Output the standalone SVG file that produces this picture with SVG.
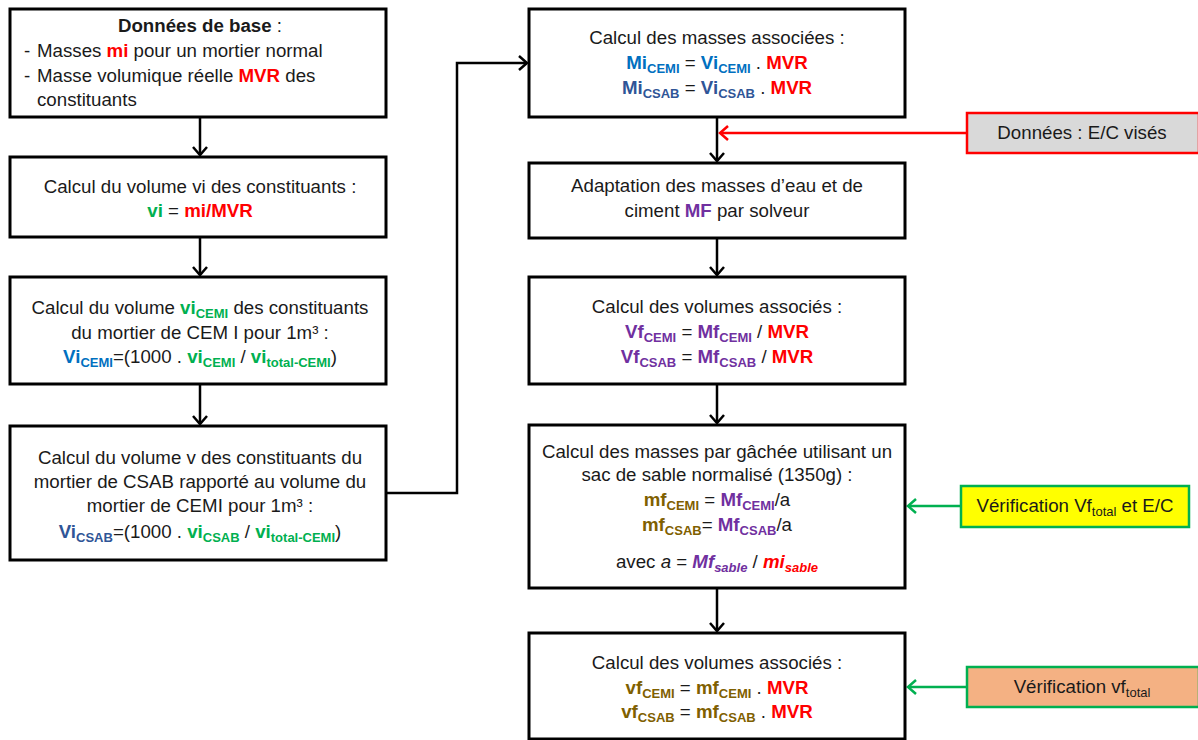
<svg xmlns="http://www.w3.org/2000/svg" width="1198" height="740" viewBox="0 0 1198 740">
<defs>
<style>
text{font-family:"Liberation Sans",Arial,sans-serif;font-size:18.7px;fill:#1a1a1a;text-anchor:middle}
.box{fill:#fff;stroke:#000;stroke-width:3}
.b{font-weight:bold}
.r{fill:#ff0000;font-weight:bold}
.g{fill:#00b050;font-weight:bold}
.bl{fill:#0070c0;font-weight:bold}
.db{fill:#2f5597;font-weight:bold}
.p{fill:#7030a0;font-weight:bold}
.o{fill:#7f6000;font-weight:bold}
.s{font-size:13px}
.con{fill:none;stroke:#000;stroke-width:2.5}
</style>
<marker id="ah" markerUnits="userSpaceOnUse" markerWidth="14" markerHeight="18" refX="10" refY="8" orient="auto">
<path d="M2,1 L10,8 L2,15" fill="none" stroke="#000" stroke-width="2.5"/>
</marker>
<marker id="ahr" markerUnits="userSpaceOnUse" markerWidth="14" markerHeight="18" refX="10" refY="8" orient="auto">
<path d="M2,1 L10,8 L2,15" fill="none" stroke="#ff0000" stroke-width="2.5"/>
</marker>
<marker id="ahg" markerUnits="userSpaceOnUse" markerWidth="14" markerHeight="18" refX="10" refY="8" orient="auto">
<path d="M2,1 L10,8 L2,15" fill="none" stroke="#00b050" stroke-width="2.5"/>
</marker>
</defs>
<rect width="1198" height="740" fill="#fff"/>

<g id="connectors">
<line class="con" x1="200" y1="117" x2="200" y2="155" marker-end="url(#ah)"/>
<line class="con" x1="200" y1="237" x2="200" y2="275" marker-end="url(#ah)"/>
<line class="con" x1="200" y1="384" x2="200" y2="424" marker-end="url(#ah)"/>
<polyline class="con" points="386,493 457,493 457,63 527,63" marker-end="url(#ah)"/>
<line class="con" x1="717" y1="117" x2="717" y2="161" marker-end="url(#ah)"/>
<line class="con" x1="717" y1="238" x2="717" y2="275" marker-end="url(#ah)"/>
<line class="con" x1="717" y1="384" x2="717" y2="423" marker-end="url(#ah)"/>
<line class="con" x1="717" y1="588" x2="717" y2="631" marker-end="url(#ah)"/>
<line x1="967" y1="133" x2="720" y2="133" stroke="#ff0000" stroke-width="2.5" marker-end="url(#ahr)"/>
<line x1="960" y1="506" x2="908" y2="506" stroke="#00b050" stroke-width="2.5" marker-end="url(#ahg)"/>
<line x1="967" y1="687" x2="908" y2="687" stroke="#00b050" stroke-width="2.5" marker-end="url(#ahg)"/>
</g>

<g id="n1">
<rect class="box" x="10" y="9" width="376" height="108"/>
<text x="200" y="32"><tspan class="b">Données de base</tspan> :</text>
<text x="24" y="57" style="text-anchor:start">-</text>
<text x="37" y="57" style="text-anchor:start">Masses <tspan class="r">mi</tspan> pour un mortier normal</text>
<text x="24" y="82" style="text-anchor:start">-</text>
<text x="37" y="82" style="text-anchor:start">Masse volumique réelle <tspan class="r">MVR</tspan> des</text>
<text x="37" y="106" style="text-anchor:start">constituants</text>
</g>

<g id="n2">
<rect class="box" x="10" y="157" width="376" height="80"/>
<text x="200" y="193">Calcul du volume vi des constituants :</text>
<text x="200" y="217"><tspan class="g">vi</tspan> = <tspan class="r">mi</tspan><tspan class="r">/MVR</tspan></text>
</g>

<g id="n3">
<rect class="box" x="10" y="277" width="376" height="107"/>
<text x="200" y="314">Calcul du volume <tspan class="g">vi</tspan><tspan class="g s" dy="4">CEMI</tspan><tspan dy="-4"> des constituants</tspan></text>
<text x="200" y="339">du mortier de CEM I pour 1m³ :</text>
<text x="200" y="363"><tspan class="bl">Vi</tspan><tspan class="bl s" dy="4">CEMI</tspan><tspan dy="-4">=(1000 . </tspan><tspan class="g">vi</tspan><tspan class="g s" dy="4">CEMI</tspan><tspan dy="-4"> / </tspan><tspan class="g">vi</tspan><tspan class="g s" dy="4">total-CEMI</tspan><tspan dy="-4">)</tspan></text>
</g>

<g id="n4">
<rect class="box" x="10" y="426" width="376" height="134"/>
<text x="200" y="464">Calcul du volume v des constituants du</text>
<text x="200" y="488">mortier de CSAB rapporté au volume du</text>
<text x="200" y="512">mortier de CEMI pour 1m³ :</text>
<text x="200" y="538"><tspan class="db">Vi</tspan><tspan class="db s" dy="4">CSAB</tspan><tspan dy="-4">=(1000 . </tspan><tspan class="g">vi</tspan><tspan class="g s" dy="4">CSAB</tspan><tspan dy="-4"> / </tspan><tspan class="g">vi</tspan><tspan class="g s" dy="4">total-CEMI</tspan><tspan dy="-4">)</tspan></text>
</g>

<g id="nA">
<rect class="box" x="529" y="9" width="376" height="108"/>
<text x="717" y="44">Calcul des masses associées :</text>
<text x="717" y="69"><tspan class="bl">Mi</tspan><tspan class="bl s" dy="4">CEMI</tspan><tspan dy="-4"> = </tspan><tspan class="bl">Vi</tspan><tspan class="bl s" dy="4">CEMI</tspan><tspan dy="-4"> . </tspan><tspan class="r">MVR</tspan></text>
<text x="717" y="94"><tspan class="db">Mi</tspan><tspan class="db s" dy="4">CSAB</tspan><tspan dy="-4"> = </tspan><tspan class="db">Vi</tspan><tspan class="db s" dy="4">CSAB</tspan><tspan dy="-4"> . </tspan><tspan class="r">MVR</tspan></text>
</g>

<g id="nB">
<rect class="box" x="529" y="163" width="376" height="75"/>
<text x="717" y="192">Adaptation des masses d’eau et de</text>
<text x="717" y="217">ciment <tspan class="p">MF</tspan> par solveur</text>
</g>

<g id="nC">
<rect class="box" x="529" y="277" width="376" height="107"/>
<text x="717" y="313">Calcul des volumes associés :</text>
<text x="717" y="338"><tspan class="p">Vf</tspan><tspan class="p s" dy="4">CEMI</tspan><tspan dy="-4"> = </tspan><tspan class="p">Mf</tspan><tspan class="p s" dy="4">CEMI</tspan><tspan dy="-4"> / </tspan><tspan class="r">MVR</tspan></text>
<text x="717" y="363"><tspan class="p">Vf</tspan><tspan class="p s" dy="4">CSAB</tspan><tspan dy="-4"> = </tspan><tspan class="p">Mf</tspan><tspan class="p s" dy="4">CSAB</tspan><tspan dy="-4"> / </tspan><tspan class="r">MVR</tspan></text>
</g>

<g id="nD">
<rect class="box" x="529" y="425" width="376" height="163"/>
<text x="717" y="458">Calcul des masses par gâchée utilisant un</text>
<text x="717" y="481">sac de sable normalisé (1350g) :</text>
<text x="717" y="506"><tspan class="o">mf</tspan><tspan class="o s" dy="4">CEMI</tspan><tspan dy="-4"> = </tspan><tspan class="p">Mf</tspan><tspan class="p s" dy="4">CEMI</tspan><tspan dy="-4">/a</tspan></text>
<text x="717" y="531"><tspan class="o">mf</tspan><tspan class="o s" dy="4">CSAB</tspan><tspan dy="-4">= </tspan><tspan class="p">Mf</tspan><tspan class="p s" dy="4">CSAB</tspan><tspan dy="-4">/a</tspan></text>
<text x="717" y="568">avec <tspan font-style="italic">a</tspan> = <tspan class="p" font-style="italic">Mf</tspan><tspan class="p s" font-style="italic" dy="4">sable</tspan><tspan dy="-4"> / </tspan><tspan class="r" font-style="italic">mi</tspan><tspan class="r s" font-style="italic" dy="4">sable</tspan></text>
</g>

<g id="nE">
<rect class="box" x="529" y="633" width="376" height="106"/>
<text x="717" y="669">Calcul des volumes associés :</text>
<text x="717" y="694"><tspan class="o">vf</tspan><tspan class="o s" dy="4">CEMI</tspan><tspan dy="-4"> = </tspan><tspan class="o">mf</tspan><tspan class="o s" dy="4">CEMI</tspan><tspan dy="-4"> . </tspan><tspan class="r">MVR</tspan></text>
<text x="717" y="718"><tspan class="o">vf</tspan><tspan class="o s" dy="4">CSAB</tspan><tspan dy="-4"> = </tspan><tspan class="o">mf</tspan><tspan class="o s" dy="4">CSAB</tspan><tspan dy="-4"> . </tspan><tspan class="r">MVR</tspan></text>
</g>

<g id="side1">
<rect x="967" y="113" width="232" height="40" fill="#d9d9d9" stroke="#ff0000" stroke-width="2.5"/>
<text x="1082" y="139">Données : E/C visés</text>
</g>

<g id="side2">
<rect x="961" y="486" width="228" height="41" fill="#ffff00" stroke="#00b050" stroke-width="2.5"/>
<text x="1075" y="512">Vérification Vf<tspan class="s" dy="4">total</tspan><tspan dy="-4"> et E/C</tspan></text>
</g>

<g id="side3">
<rect x="967" y="667" width="232" height="40" fill="#f4b183" stroke="#00b050" stroke-width="2.5"/>
<text x="1082" y="693">Vérification vf<tspan class="s" dy="4">total</tspan></text>
</g>
</svg>
